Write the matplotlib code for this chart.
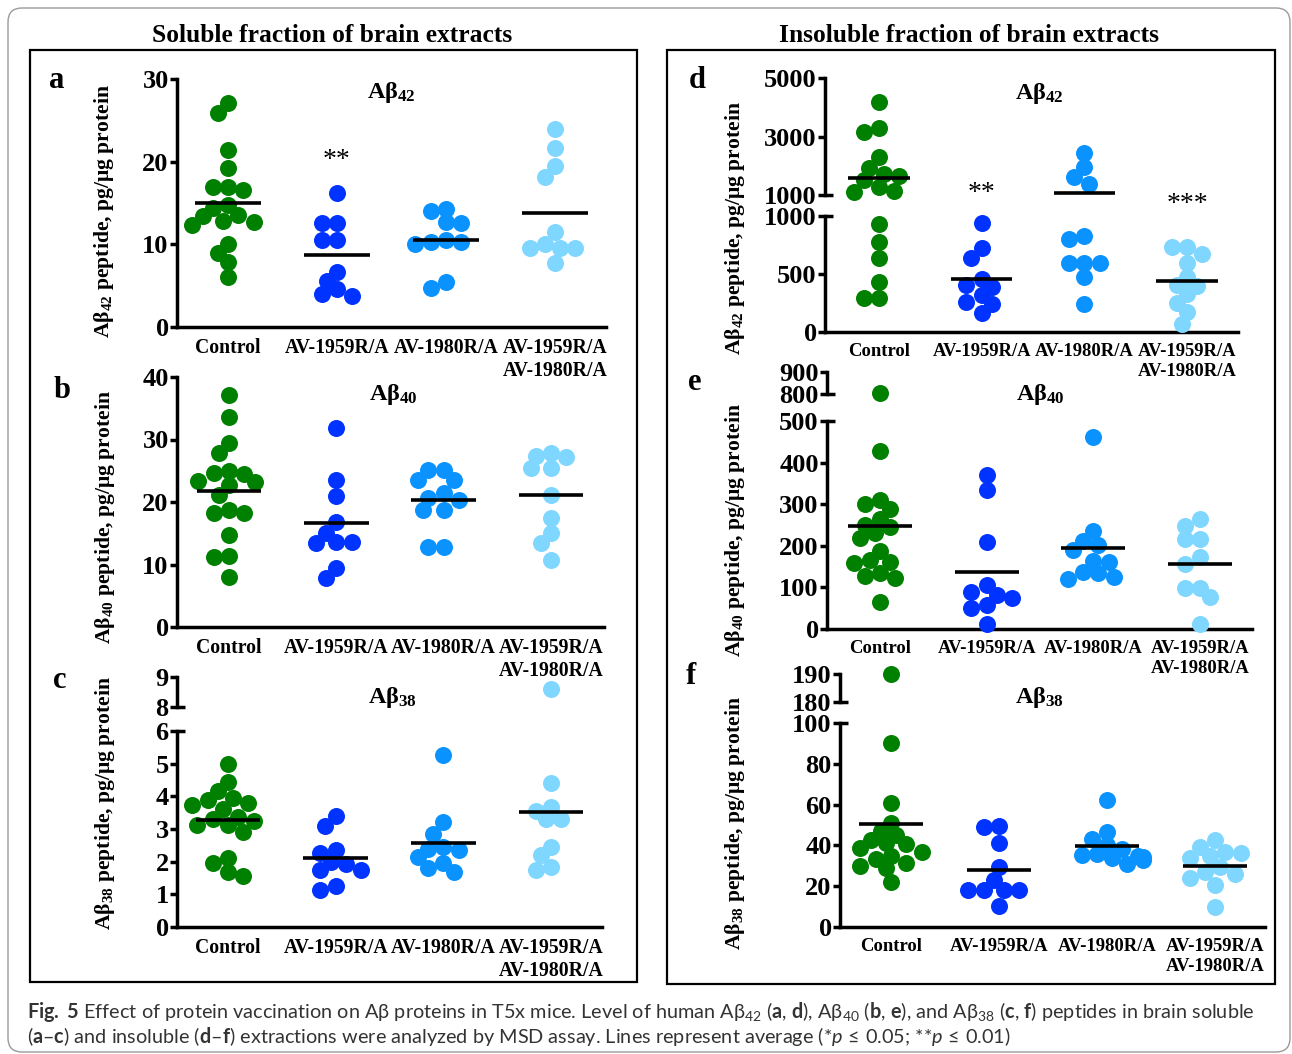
import numpy as np
import matplotlib
matplotlib.use("Agg")
import matplotlib.pyplot as plt
from matplotlib.patches import Rectangle, FancyBboxPatch
from matplotlib.transforms import IdentityTransform

plt.rcParams['font.family'] = ['Liberation Serif', 'DejaVu Serif']
plt.rcParams['font.weight'] = 'bold'
plt.rcParams['mathtext.fontset'] = 'custom'
plt.rcParams['mathtext.default'] = 'regular'
plt.rcParams['mathtext.rm'] = 'Lato:regular'
plt.rcParams['mathtext.bf'] = 'Lato:bold'
plt.rcParams['mathtext.it'] = 'Lato:italic:regular'

groups = ["Control", "AV-1959R/A", "AV-1980R/A", "AV-1959R/A\nAV-1980R/A"]
colors = ["#008000", "#0033ff", "#0a93ff", "#7fd6ff"]

# values per group: Control, AV-1959R/A, AV-1980R/A, both
a_values = [
    [27.1, 25.9, 21.4, 19.2, 16.9, 16.9, 16.6, 14.8, 14.4, 13.6, 13.4, 12.8, 12.7, 12.3, 10.1, 9.0, 7.9, 6.1],
    [16.2, 12.6, 12.6, 10.5, 10.5, 6.6, 5.6, 3.8, 4.0, 4.6],
    [14.0, 14.3, 12.7, 12.6, 10.3, 10.5, 10.1, 10.3, 5.4, 4.7],
    [24.0, 21.6, 19.5, 18.2, 11.5, 9.5, 9.5, 9.5, 10.1, 7.7],
]
a_means = [15.0, 8.7, 10.5, 13.8]

b_values = [
    [37.1, 33.6, 29.5, 27.9, 25.0, 24.6, 24.5, 23.4, 23.2, 22.7, 21.1, 18.7, 18.2, 18.2, 14.8, 11.4, 11.2, 8.0],
    [31.8, 23.5, 20.9, 16.8, 15.1, 13.6, 13.6, 13.4, 9.4, 7.8],
    [25.1, 25.1, 23.6, 23.6, 21.4, 20.6, 20.3, 18.7, 18.7, 12.8, 12.8],
    [27.9, 27.3, 27.2, 25.4, 25.4, 21.1, 17.4, 15.0, 13.5, 10.7],
]
b_means = [21.8, 16.7, 20.3, 21.1]

c_values = [
    [4.98, 4.43, 4.17, 3.94, 3.89, 3.79, 3.73, 3.6, 3.38, 3.3, 3.25, 3.12, 3.12, 2.92, 2.1, 1.95, 1.69, 1.56],
    [3.4, 3.1, 2.37, 2.27, 2.0, 1.94, 1.76, 1.76, 1.25, 1.12],
    [5.27, 3.2, 2.86, 2.45, 2.4, 2.35, 2.15, 1.95, 1.8, 1.68],
    [8.61, 4.4, 3.68, 3.56, 3.32, 3.32, 2.45, 2.2, 1.84, 1.76],
]
c_means = [3.27, 2.1, 2.56, 3.52]

d_values = [
    [4170, 3290, 3170, 2290, 1910, 1720, 1650, 1500, 1260, 1150, 1110, 931, 778, 634, 432, 297, 297],
    [937, 720, 640, 455, 403, 389, 317, 259, 245, 167],
    [2451, 1949, 1629, 1377, 827, 801, 597, 591, 591, 476, 245],
    [735, 735, 671, 591, 476, 403, 398, 326, 251, 173, 72],
]
d_means = [1571, 455, 1057, 441]

e_values = [
    [805, 429, 310, 300, 288, 264, 250, 244, 230, 218, 188, 166, 160, 159, 134, 128, 122, 66],
    [370, 333, 208, 105, 90, 82, 74, 58, 50, 12],
    [462, 236, 212, 202, 190, 163, 162, 136, 134, 124, 120],
    [264, 248, 216, 216, 172, 156, 98, 98, 76, 12],
]
e_means = [248, 138, 195, 156]

f_values = [
    [190, 90, 61, 51, 47, 45, 42.5, 41, 40.5, 38.5, 37, 35, 33.5, 31.5, 30, 29, 22],
    [49.5, 49.2, 41, 29.2, 23, 18, 18, 18, 18, 10.3],
    [62.3, 46.7, 43, 40, 38, 36, 35.5, 35, 34.5, 34, 33, 31],
    [42.6, 39, 37, 36.4, 34.8, 34, 29.5, 27, 26.2, 23.8, 20.5, 9.8],
]
f_means = [50.3, 27.9, 39.8, 30.0]

a_stars = [(1, "**", 20.2)]
d_stars = [(1, "**", 1198), (3, "***", 1095)]

W, H = 1292, 1054
fig = plt.figure(figsize=(W / 100, H / 100), dpi=100)


def fx(x):
    return x / W


def fy(y):
    return 1 - y / H


# layout in pixels: axis left/right, first/last category centre, segments (ylo, yhi, px_lo, px_hi, ticks)
panels = [
    dict(letter="a", sub="42", vals=a_values, means=a_means, stars=a_stars, left=177, right=606, c0=228, c3=555,
         segs=[(0, 30, 327, 79, [0, 10, 20, 30])], title=(391, 98), lab=(104, 211), let=(57, 80), xfs=14.2),
    dict(letter="b", sub="40", vals=b_values, means=b_means, stars=[], left=177, right=604, c0=229, c3=551,
         segs=[(0, 40, 627, 377, [0, 10, 20, 30, 40])], title=(393, 400), lab=(105, 517), let=(62, 390), xfs=14.2),
    dict(letter="c", sub="38", vals=c_values, means=c_means, stars=[], left=177, right=602, c0=228, c3=551,
         segs=[(0, 6, 927, 731, [0, 1, 2, 3, 4, 5, 6]), (8, 9, 707, 677, [8, 9])], title=(393, 703), lab=(105, 803),
         let=(60, 680), xfs=14.2),
    dict(letter="d", sub="42", vals=d_values, means=d_means, stars=d_stars, left=825, right=1238, c0=879, c3=1187,
         segs=[(0, 1000, 332, 216, [0, 500, 1000]), (1000, 5000, 195, 78, [1000, 3000, 5000])], title=(1039, 99),
         lab=(735, 228), let=(697, 80), xfs=13.4),
    dict(letter="e", sub="40", vals=e_values, means=e_means, stars=[], left=827, right=1252, c0=880, c3=1200,
         segs=[(0, 500, 629, 421, [0, 100, 200, 300, 400, 500]), (800, 900, 394, 372, [800, 900])], title=(1040, 400),
         lab=(735, 530), let=(695, 383), xfs=13.4),
    dict(letter="f", sub="38", vals=f_values, means=f_means, stars=[], left=840, right=1265, c0=891, c3=1215,
         segs=[(0, 100, 927, 723, [0, 20, 40, 60, 80, 100]), (180, 190, 702, 674, [180, 190])], title=(1040, 703),
         lab=(735, 823), let=(691, 676), xfs=13.4),
]

DOT = 17.0  # marker diameter in px


def swarm(ypix, d):
    order = np.argsort(-np.asarray(ypix))
    placed = []
    xs = np.zeros(len(ypix))
    for i in order:
        for k in [0, -1, 1, -2, 2, -3, 3, -4, 4, -5, 5, -6, 6, -7, 7]:
            x = k * d * 0.3
            if all((x - px) ** 2 + (ypix[i] - py) ** 2 >= (0.75 * d) ** 2 for px, py in placed):
                break
        xs[i] = x
        placed.append((x, ypix[i]))
    return xs


for p in panels:
    spacing = (p["c3"] - p["c0"]) / 3
    xlim = (-(p["c0"] - p["left"]) / spacing, 3 + (p["right"] - p["c3"]) / spacing)
    axes = []
    for k, (ylo, yhi, plo, phi, ticks) in enumerate(p["segs"]):
        ax = fig.add_axes([fx(p["left"]), fy(plo), (p["right"] - p["left"]) / W, (plo - phi) / H])
        ax.set_xlim(*xlim)
        ax.set_ylim(ylo, yhi)
        ax.patch.set_visible(False)
        ax.spines["top"].set_visible(False)
        ax.spines["right"].set_visible(False)
        ax.spines["left"].set_linewidth(2.5)
        ax.spines["bottom"].set_linewidth(2.5)
        ax.set_yticks(ticks)
        ax.tick_params(axis="y", width=2.5, length=5, pad=1, labelsize=19)
        if k == 0:
            ax.set_xticks(range(4))
            ax.set_xticklabels(groups, fontsize=p["xfs"], fontweight="bold")
            ax.tick_params(axis="x", length=0, pad=8)
        else:
            ax.spines["bottom"].set_visible(False)
            ax.set_xticks([])
        if len(p["segs"]) > 1:
            # break marks
            ext = 8 / (p["right"] - p["left"])
            yb = yhi if k == 0 else ylo
            ax.plot([0, ext], [yb, yb], transform=ax.get_yaxis_transform(), color="black", lw=2.5,
                    clip_on=False, solid_capstyle="butt")
        axes.append(ax)

    def seg_of(v):
        return 1 if len(axes) > 1 and v > p["segs"][0][1] else 0

    for i, vals in enumerate(p["vals"]):
        vals = np.asarray(vals, dtype=float)
        seg = np.array([seg_of(v) for v in vals])
        ypix = [axes[s].transData.transform((0, v))[1] for s, v in zip(seg, vals)]
        off = swarm(ypix, DOT) / spacing
        for s in set(seg):
            m = seg == s
            axes[s].plot(i + off[m], vals[m], "o", ms=DOT * 0.72, mec="none", color=colors[i],
                         clip_on=False, zorder=3)
        mv = p["means"][i]
        axes[seg_of(mv)].plot([i - 0.3, i + 0.3], [mv, mv], color="black", lw=2.6,
                              solid_capstyle="butt", zorder=4, clip_on=False)

    for ci, s, yv in p["stars"]:
        axes[0].text(ci, yv, s, ha="center", va="center", fontsize=20, fontweight="normal", clip_on=False)

    fig.text(fx(p["title"][0]), fy(p["title"][1]), "Aβ$_{%s}$" % p["sub"], ha="center", va="baseline",
             fontsize=17.5)
    fig.text(fx(p["lab"][0]), fy(p["lab"][1]), "Aβ$_{%s}$ peptide, pg/μg protein" % p["sub"], rotation=90,
             ha="center", va="center", fontsize=15.6)
    fig.text(fx(p["let"][0]), fy(p["let"][1]), p["letter"], ha="center", va="center", fontsize=22)

# section titles and frames
fig.text(fx(332), fy(35), "Soluble fraction of brain extracts", ha="center", va="center", fontsize=18.4)
fig.text(fx(969), fy(35), "Insoluble fraction of brain extracts", ha="center", va="center", fontsize=18.4)

idt = IdentityTransform()
fig.add_artist(Rectangle((30, H - 982), 607, 932, transform=idt, fill=False, lw=1.6, ec="black"))
fig.add_artist(Rectangle((667, H - 984), 608, 934, transform=idt, fill=False, lw=1.6, ec="black"))
fig.add_artist(FancyBboxPatch((8, 2), 1282, H - 10, boxstyle="round,pad=0,rounding_size=14", transform=idt,
                              fill=False, lw=1.0, ec="#9a9a9a"))

# caption
cap1 = (r"$\mathbf{Fig.\ 5}$ Effect of protein vaccination on Aβ proteins in T5x mice. Level of human "
        r"Aβ$_{42}$ ($\mathbf{a}$, $\mathbf{d}$), Aβ$_{40}$ ($\mathbf{b}$, $\mathbf{e}$), and "
        r"Aβ$_{38}$ ($\mathbf{c}$, $\mathbf{f}$) peptides in brain soluble")
cap2 = (r"($\mathbf{a}$–$\mathbf{c}$) and insoluble ($\mathbf{d}$–$\mathbf{f}$) extractions were analyzed by "
        r"MSD assay. Lines represent average (*$\mathit{p}\,{\leq}\,$0.05; **$\mathit{p}\,{\leq}\,$0.01)")
t1 = fig.text(fx(27), fy(1018), cap1, ha="left", va="baseline", fontsize=12, family="Lato",
              fontweight="normal", color="#333333")
t2 = fig.text(fx(27), fy(1043), cap2, ha="left", va="baseline", fontsize=12, family="Lato",
              fontweight="normal", color="#333333")
r = fig.canvas.get_renderer()
wpx = t1.get_window_extent(r).width
size = 12 * 1228 / wpx
t1.set_fontsize(size)
t2.set_fontsize(size)

fig.savefig("out.png", dpi=100)
